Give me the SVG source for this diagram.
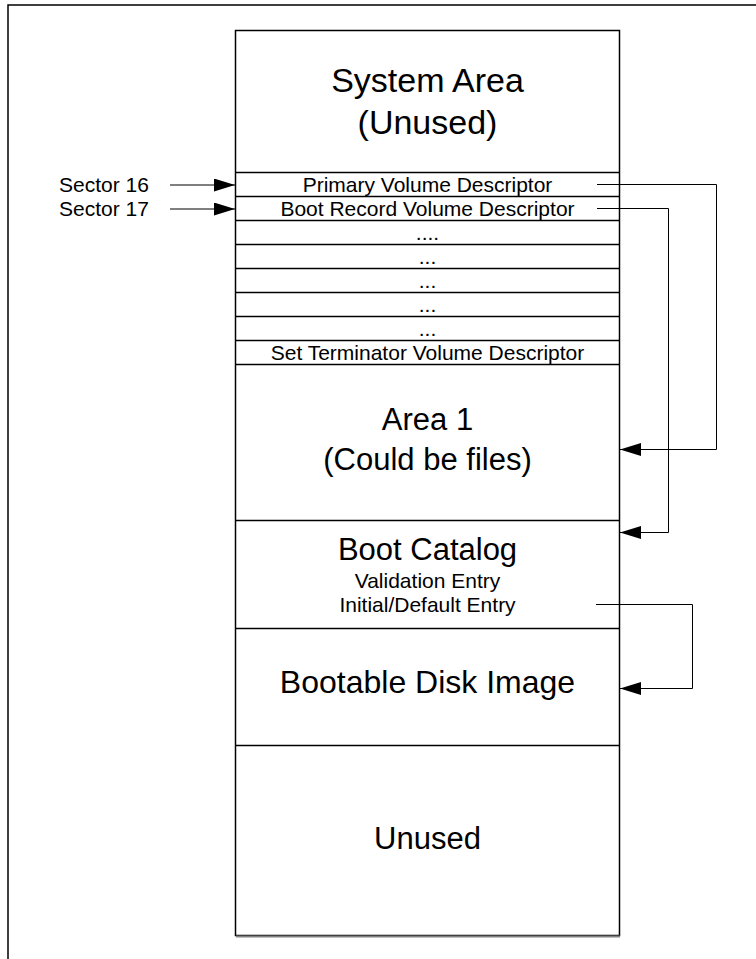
<svg xmlns="http://www.w3.org/2000/svg" width="756" height="959" viewBox="0 0 756 959">
<style>
text{font-family:"Liberation Sans",Arimo,Arial,sans-serif;fill:#000}
.big{font-size:31px;text-anchor:middle}
.sm{font-size:21px;text-anchor:middle}
.lbl{font-size:21px}
.sep{stroke:#000;stroke-width:1.5;fill:none}
.conn{stroke:#000;stroke-width:1;fill:none}
</style>
<defs>
<marker id="ah" markerWidth="21" markerHeight="13" refX="21" refY="6.5" orient="auto" markerUnits="userSpaceOnUse">
<path d="M0,0 L21,6.5 L0,13 Z" fill="#000"/>
</marker>
</defs>
<rect width="756" height="959" fill="#fff"/>
<g id="frame">
<path d="M8,959 V5 H756" class="sep"/>
</g>
<g id="disk">
<rect x="235.5" y="30.5" width="384" height="905" fill="#fff" stroke="#000" stroke-width="1.5"/>
<line x1="236" y1="936.5" x2="620" y2="936.5" stroke="#808080" stroke-width="2"/>
</g>
<g id="system-area">
<text class="big" x="427.5" y="92" style="font-size:34px">System Area</text>
<text class="big" x="427.5" y="134" style="font-size:34px">(Unused)</text>
</g>
<g id="descriptors">
<path class="sep" d="M235,172.5H620M235,196.5H620M235,220.5H620M235,244.5H620M235,268.5H620M235,292.5H620M235,316.5H620M235,340.5H620M235,364.5H620"/>
<text class="sm" x="427.5" y="192">Primary Volume Descriptor</text>
<text class="sm" x="427.5" y="216">Boot Record Volume Descriptor</text>
<text class="sm" x="427.5" y="240">....</text>
<text class="sm" x="427.5" y="264">...</text>
<text class="sm" x="427.5" y="288">...</text>
<text class="sm" x="427.5" y="312">...</text>
<text class="sm" x="427.5" y="336">...</text>
<text class="sm" x="427.5" y="360">Set Terminator Volume Descriptor</text>
</g>
<g id="area1">
<text class="big" x="427.5" y="430">Area 1</text>
<text class="big" x="427.5" y="470">(Could be files)</text>
<line class="sep" x1="235" y1="520.5" x2="620" y2="520.5"/>
</g>
<g id="boot-catalog">
<text class="big" x="427.5" y="560">Boot Catalog</text>
<text class="sm" x="427.5" y="588">Validation Entry</text>
<text class="sm" x="427.5" y="612">Initial/Default Entry</text>
<line class="sep" x1="235" y1="628.5" x2="620" y2="628.5"/>
</g>
<g id="bootable-image">
<text class="big" x="427.5" y="693" style="font-size:32px">Bootable Disk Image</text>
<line class="sep" x1="235" y1="745.5" x2="620" y2="745.5"/>
</g>
<g id="unused">
<text class="big" x="427.5" y="849">Unused</text>
</g>
<g id="sector-labels">
<text class="lbl" x="59" y="192">Sector 16</text>
<text class="lbl" x="59" y="216">Sector 17</text>
</g>
<g id="connectors">
<line class="conn" x1="170" y1="185" x2="235" y2="185" marker-end="url(#ah)"/>
<line class="conn" x1="170" y1="209" x2="235" y2="209" marker-end="url(#ah)"/>
<polyline class="conn" points="597,184.5 716.5,184.5 716.5,449.5 620,449.5" marker-end="url(#ah)"/>
<polyline class="conn" points="597,208.5 668.5,208.5 668.5,532.5 620,532.5" marker-end="url(#ah)"/>
<polyline class="conn" points="596,604.5 692.5,604.5 692.5,688.5 620,688.5" marker-end="url(#ah)"/>
</g>
</svg>
